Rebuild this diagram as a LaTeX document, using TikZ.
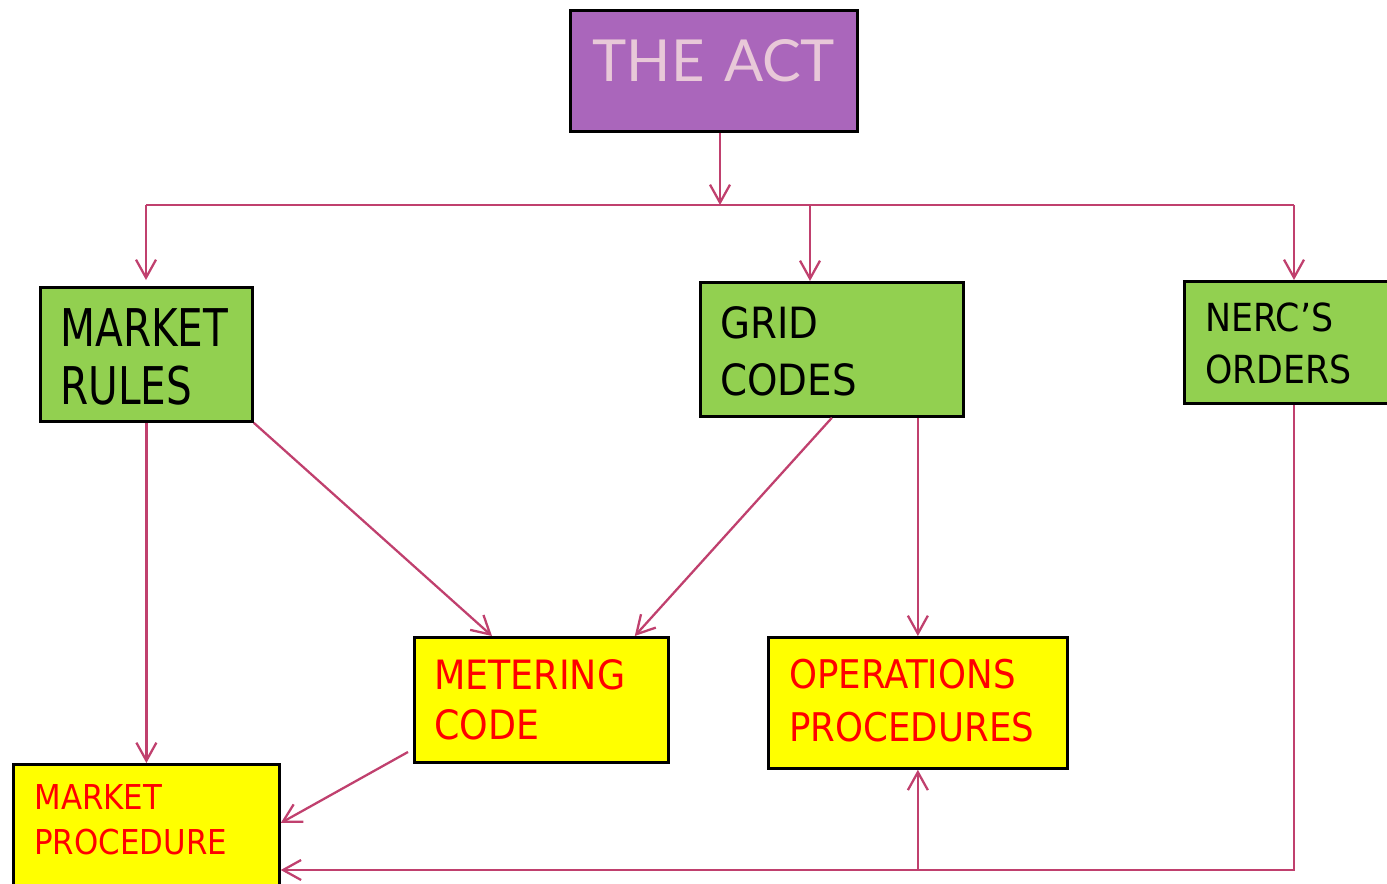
\documentclass[tikz,border=0pt]{standalone}
\usepackage{fontspec}
\usepackage{xcolor}
\usepackage{tikz}
\setmainfont[FakeStretch=0.9]{DejaVu Sans}
\newfontfamily\tallfont[FakeStretch=0.78]{DejaVu Sans}
\newfontfamily\actfont{Lato}
\usetikzlibrary{positioning,arrows.meta}

\definecolor{actpurple}{RGB}{170,102,187}
\definecolor{actpink}{RGB}{232,200,216}
\definecolor{rulegreen}{RGB}{146,208,80}
\definecolor{procyellow}{RGB}{255,255,0}
\definecolor{proctext}{RGB}{255,0,0}
\definecolor{linkline}{RGB}{192,64,110}

\begin{document}
\begin{tikzpicture}[x=0.02cm, y=-0.02cm,
    act block/.style={rectangle, draw=black, line width=1.6pt, anchor=north west,
        inner ysep=0pt, align=left},
    act arrow/.style={-{Straight Barb[length=0.36cm,width=0.4cm]}, draw=linkline, line width=1.3pt},
    act line/.style={draw=linkline, line width=1.3pt}]

    \clip (0,0) rectangle (1387,883);

    % top box
    \node [act block, fill=actpurple, text=actpink, inner xsep=0pt, align=center,
        text width=5.74cm, text height=1.42cm, text depth=1.0cm,
        font=\actfont\fontsize{33}{40}\selectfont] (act) at (569,9) {THE ACT};

    % green boxes
    \node [act block, fill=rulegreen, inner xsep=0.4cm, text width=3.44cm,
        text height=1.18cm, text depth=1.5cm,
        font=\tallfont\fontsize{29.6}{32.9}\selectfont] (mrules) at (39,286) {MARKET\\RULES};
    \node [act block, fill=rulegreen, inner xsep=0.4cm, text width=4.46cm,
        text height=1.12cm, text depth=1.56cm,
        font=\fontsize{24.5}{32.3}\selectfont] (grid) at (699,281) {GRID\\CODES};
    \node [act block, fill=rulegreen, inner xsep=0.42cm, text width=3.6cm,
        text height=1.0cm, text depth=1.44cm,
        font=\fontsize{22}{29.5}\selectfont] (nerc) at (1183,280) {NERC’S\\ORDERS};

    % yellow boxes
    \node [act block, fill=procyellow, text=proctext, inner xsep=0.4cm, text width=4.28cm,
        text height=1.04cm, text depth=1.46cm,
        font=\fontsize{23}{28.3}\selectfont] (meter) at (413,636) {METERING\\CODE};
    \node [act block, fill=procyellow, text=proctext, inner xsep=0.42cm, text width=5.14cm,
        text height=1.02cm, text depth=1.6cm,
        font=\fontsize{22.5}{30}\selectfont] (ops) at (767,636) {OPERATIONS\\PROCEDURES};
    \node [act block, fill=procyellow, text=proctext, inner xsep=0.42cm, text width=4.48cm,
        text height=0.9cm, text depth=3cm,
        font=\fontsize{19.5}{25.5}\selectfont] (mproc) at (12,763) {MARKET\\PROCEDURE};

    % branch points
    \coordinate (split) at (720,205);
    \coordinate (bl) at (146,205);
    \coordinate (bg) at (810,205);
    \coordinate (br) at (1294,205);
    \coordinate (foot) at (1294,870);

    \draw [act line] (bl) -- (br);
    \draw [act arrow] (act.south -| split) -- (split);
    \draw [act arrow, shorten >=0.12cm] (bl) -- (mrules.north -| bl);
    \draw [act arrow] (bg) -- (grid.north -| bg);
    \draw [act arrow] (br) -- (nerc.north -| br);

    \draw [act arrow] (mrules.south) -- (mrules.south |- mproc.north);
    \draw [act arrow] (mrules.south east) -- ([xshift=1.58cm]meter.north west);
    \draw [act arrow] (grid.south) -- ([xshift=-0.7cm]meter.north east);
    \draw [act arrow] (ops.north |- grid.south) -- (ops.north);
    \draw [act arrow] ([shift={(-0.1cm,-2.32cm)}]meter.north west) -- ([yshift=-1.2cm]mproc.north east);

    \draw [act arrow] (nerc.south -| foot) -- (foot) -- (foot -| mproc.east);
    \draw [act arrow] (ops.south |- foot) -- (ops.south);

\end{tikzpicture}
\end{document}
